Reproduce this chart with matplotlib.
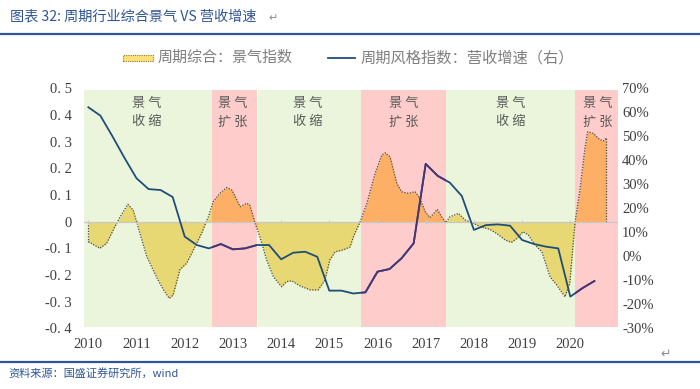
import numpy as np
import matplotlib
matplotlib.use("Agg")
import matplotlib.pyplot as plt
from matplotlib.patches import Rectangle
from matplotlib.lines import Line2D
from matplotlib.transforms import blended_transform_factory

plt.rcParams['font.family'] = ['Noto Sans CJK SC', 'DejaVu Sans']

# 周期综合：景气指数 (left axis)
idx_year = [2010.0, 2010.24, 2010.38, 2010.55, 2010.66, 2010.82, 2010.93, 2011.07,
            2011.21, 2011.42, 2011.56, 2011.68, 2011.76, 2011.90, 2012.04, 2012.18,
            2012.35, 2012.49, 2012.59, 2012.73, 2012.87, 2012.98, 2013.15, 2013.29,
            2013.35, 2013.46, 2013.56, 2013.70, 2013.84, 2014.01, 2014.11, 2014.22,
            2014.39, 2014.60, 2014.77, 2014.91, 2015.01, 2015.12, 2015.29, 2015.43,
            2015.50, 2015.64, 2015.78, 2015.95, 2016.09, 2016.16, 2016.26, 2016.40,
            2016.50, 2016.64, 2016.78, 2016.88, 2016.99, 2017.09, 2017.24, 2017.33,
            2017.42, 2017.50, 2017.68, 2017.82, 2017.99, 2018.13, 2018.33, 2018.47,
            2018.65, 2018.78, 2018.89, 2019.02, 2019.13, 2019.27, 2019.41, 2019.58,
            2019.72, 2019.89, 2019.99, 2020.10, 2020.20, 2020.30, 2020.36, 2020.48,
            2020.58, 2020.68, 2020.74]
idx_value = [-0.075, -0.100, -0.081, -0.019, 0.018, 0.065, 0.044, -0.044,
             -0.130, -0.210, -0.256, -0.288, -0.275, -0.180, -0.156, -0.106,
             -0.044, 0.018, 0.075, 0.106, 0.128, 0.118, 0.056, 0.069,
             0.062, -0.006, -0.057, -0.144, -0.207, -0.244, -0.225, -0.222,
             -0.241, -0.256, -0.256, -0.219, -0.144, -0.113, -0.106, -0.095,
             -0.057, 0.000, 0.069, 0.181, 0.250, 0.258, 0.243, 0.144,
             0.112, 0.106, 0.112, 0.087, 0.037, 0.015, 0.046, 0.018,
             -0.004, 0.018, 0.031, 0.006, -0.006, -0.019, -0.029, -0.044,
             -0.069, -0.078, -0.063, -0.038, -0.050, -0.088, -0.113, -0.207,
             -0.238, -0.282, -0.231, 0.000, 0.118, 0.269, 0.337, 0.331,
             0.312, 0.302, 0.312]

# 周期风格指数：营收增速 (right axis, %), quarterly from 2010Q1
rev_year = [2010 + q / 4 for q in range(43)]
rev_growth = [62.1, 58.6, 50.0, 41.0, 32.5, 28.0, 27.6, 24.7, 8.2, 4.7,
              3.3, 5.1, 2.9, 3.3, 4.7, 4.7, -1.25, 1.5, 1.9, -0.2,
              -14.3, -14.3, -15.5, -15.0, -6.4, -5.3, -0.8, 5.4, 38.5, 33.5,
              30.7, 25.1, 11.0, 13.0, 13.3, 12.75, 6.8, 5.1, 4.0, 3.3,
              -16.8, -13.3, -10.3]

# 景气阶段
phase_start = [2009.91, 2012.57, 2013.53, 2015.66, 2017.43, 2020.10]
phase_end = [2012.57, 2013.49, 2015.66, 2017.43, 2020.10, 2020.99]
phase_kind = ["收缩", "扩张", "收缩", "扩张", "收缩", "扩张"]
phase_label_x = [2011.21, 2013.0, 2014.56, 2016.54, 2018.76, 2020.56]

years = list(range(2010, 2021))
left_ticks = [-0.4, -0.3, -0.2, -0.1, 0, 0.1, 0.2, 0.3, 0.4, 0.5]
right_ticks = [-30, -20, -10, 0, 10, 20, 30, 40, 50, 60, 70]

W, H = 700, 389
fig = plt.figure(figsize=(7.0, 3.89), dpi=100)
ax = fig.add_axes([84 / W, 1 - 328.3 / H, (618 - 84) / W, (328.3 - 88.3) / H])
ax2 = ax.twinx()

green, pink = "#EAF5DC", "#FFCCCC"
yellow, orange = "#E8D874", "#FDAF65"
navy, purple = "#1F4E79", "#4B3476"

band_tf = blended_transform_factory(ax.transData, ax.transAxes)
for s, e, k in zip(phase_start, phase_end, phase_kind):
    ax.axvspan(s, e, ymin=0.005, ymax=0.993, color=green if k == "收缩" else pink,
               lw=0, zorder=0)

x = np.array(idx_year)
y = np.array(idx_value)
ax.fill_between(x, 0, y, color=yellow, lw=0, zorder=1)
for s, e, k in zip(phase_start, phase_end, phase_kind):
    if k == "扩张":
        f = ax.fill_between(x, 0, y, color=orange, lw=0, zorder=1.1)
        f.set_clip_path(Rectangle((s, 0), e - s, 1, transform=band_tf))
ax.plot(x, y, color="#4A4A4A", lw=0.9, ls=(0, (1, 1.2)), zorder=2)
ax.vlines([x[0], x[-1]], 0, [y[0], y[-1]], color="#4A4A4A", lw=0.9,
          linestyles=[(0, (1, 1.2))], zorder=2)
ax.axhline(0, color="#C8C8C8", lw=0.9, zorder=2.5)
ax.plot(years, [0] * len(years), ls="none", marker="|", ms=3, color="#C8C8C8",
        mew=0.8, zorder=2.5)

ax2.plot(rev_year, rev_growth, color=navy, lw=1.3, zorder=3)
for s, e, k in zip(phase_start, phase_end, phase_kind):
    if k == "扩张":
        ln, = ax2.plot(rev_year, rev_growth, color=purple, lw=1.3, zorder=3.1)
        ln.set_clip_path(Rectangle((s, 0), e - s, 1,
                                   transform=blended_transform_factory(ax2.transData, ax2.transAxes)))

for px, k in zip(phase_label_x, phase_kind):
    ax.text(px, 0.408, "景 气\n" + k[0] + " " + k[1], ha="center", va="center", fontsize=9.5,
            color="#595959", linespacing=1.5, zorder=4)

ax.set_xlim(2009.91, 2020.99)
ax.set_ylim(-0.4, 0.5)
ax2.set_ylim(-30, 70)

serif = ["Liberation Serif", "DejaVu Serif"]
ax.set_xticks(years)
ax.set_xticklabels([str(v) for v in years], family=serif, fontsize=10.5, color="#404040")
ax.set_yticks(left_ticks)
ax.set_yticklabels(["0" if v == 0 else ("%.1f" % v).replace(".", ". ") for v in left_ticks],
                   family=serif, fontsize=10.5, color="#404040")
ax2.set_yticks(right_ticks)
ax2.set_yticklabels(["%d%%" % v for v in right_ticks], family=serif, fontsize=10.5,
                    color="#404040")
ax.tick_params(axis="x", length=0, pad=7)
ax.tick_params(axis="y", length=0, pad=9)
ax2.tick_params(axis="y", length=0, pad=3)
for a in (ax, ax2):
    for sp in a.spines.values():
        sp.set_visible(False)

# legend
def fx(px):
    return px / W

def fy(py):
    return 1 - py / H

fig.patches.append(Rectangle((fx(123), fy(61)), 30 / W, 6 / H, transform=fig.transFigure,
                             facecolor="#FFE07A", edgecolor="#8A7A30", lw=0.8,
                             ls=(0, (1, 1))))
fig.text(fx(158), fy(58), "周期综合：景气指数", fontsize=10.8, color="#7F7F7F", va="center")
fig.lines.append(Line2D([fx(328), fx(355)], [fy(58), fy(58)], transform=fig.transFigure,
                        color=navy, lw=1.3))
fig.text(fx(361), fy(58), "周期风格指数：营收增速（右）", fontsize=11, color="#7F7F7F",
         va="center")

# title and source
blue = "#2E5597"
fig.text(fx(10), fy(17), "图表 32: 周期行业综合景气 VS 营收增速", fontsize=10.2,
         color=blue, va="center", style="italic")
fig.text(fx(268), fy(18), "↵", fontsize=8, color="#8C8C8C", va="center",
         family="DejaVu Sans")
fig.lines.append(Line2D([0, 1], [fy(34), fy(34)], transform=fig.transFigure,
                        color=blue, lw=1.6))
fig.lines.append(Line2D([0, 1], [fy(362), fy(362)], transform=fig.transFigure,
                        color=blue, lw=1.6))
fig.text(fx(8), fy(373), "资料来源：国盛证券研究所，wind", fontsize=8, color=blue,
         va="center", style="italic")
fig.text(fx(660), fy(354), "↵", fontsize=9, color="#8C8C8C", va="center",
         family="DejaVu Sans")

fig.savefig("out.png", dpi=100)
